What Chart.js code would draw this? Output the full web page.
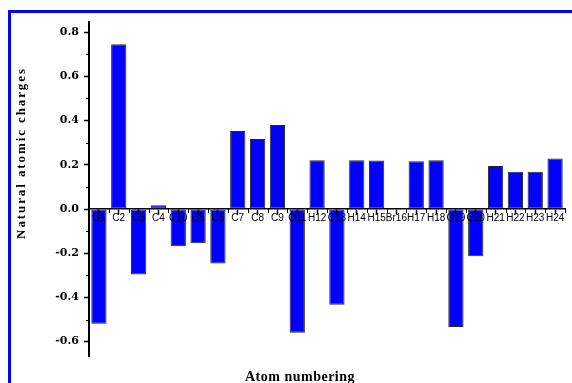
<!DOCTYPE html>
<html>
<head>
<meta charset="utf-8">
<script src="https://cdn.jsdelivr.net/npm/chart.js@4.4.1/dist/chart.umd.min.js"></script>
<style>
  html, body { margin: 0; padding: 0; background: #fff; overflow: hidden; }
  #frame { position: absolute; left: 8px; top: 10px; width: 600px; height: 400px;
           border-top: 3px solid #0000ff; border-left: 3px solid #0000ff; }
  #wrap { position: absolute; left: 0; top: 0; width: 572px; height: 383px; }
</style>
</head>
<body>
<div id="frame"></div>
<div id="wrap"><canvas id="chart"></canvas></div>
<script>
// atom labels along the x axis
const atoms = ['O1', 'C2', 'C3', 'C4', 'C10', 'C5', 'C6', 'C7', 'C8', 'C9', 'O11', 'H12',
               'C13', 'H14', 'H15', 'Br16', 'H17', 'H18', 'O19', 'C20', 'H21', 'H22', 'H23', 'H24'];

// natural atomic charges
const charges = [-0.519, 0.745, -0.296, 0.017, -0.169, -0.155, -0.247, 0.353, 0.317, 0.380, -0.560, 0.220,
                 -0.433, 0.220, 0.219, 0.000, 0.216, 0.220, -0.534, -0.214, 0.195, 0.169, 0.169, 0.228];

const yTickValues = [-0.6, -0.4, -0.2, 0.0, 0.2, 0.4, 0.6, 0.8];
const yMinorTicks = [-0.5, -0.3, -0.1, 0.1, 0.3, 0.5, 0.7];

// minor ticks + the two axis titles (Origin style)
const axisDecor = {
  id: 'axisDecor',
  afterDraw(chart) {
    const ctx = chart.ctx;
    const xs = chart.scales.x;
    const ys = chart.scales.y;
    const area = chart.chartArea;
    ctx.save();
    ctx.strokeStyle = '#000';
    ctx.lineWidth = 1;
    ctx.beginPath();
    yMinorTicks.forEach(v => {
      const py = Math.round(ys.getPixelForValue(v)) + 0.5;
      ctx.moveTo(area.left, py);
      ctx.lineTo(area.left - 3, py);
    });
    const zero = ys.getPixelForValue(0);
    for (let i = 0; i <= atoms.length; i++) {
      const px = Math.round(xs.getPixelForValue(i - 0.5)) + 0.5;
      ctx.moveTo(px, zero);
      ctx.lineTo(px, zero + 4);
    }
    ctx.stroke();

    ctx.fillStyle = '#000';
    ctx.textAlign = 'center';
    ctx.font = 'bold 14px "Liberation Serif"';
    ctx.letterSpacing = '0.5px';
    ctx.textBaseline = 'alphabetic';
    ctx.fillText('Atom numbering', (area.left + area.right) / 2 - 27, area.bottom + 25);

    ctx.translate(area.left - 67, area.top + 131);
    ctx.rotate(-Math.PI / 2);
    ctx.font = 'bold 13px "Liberation Serif"';
    ctx.letterSpacing = '1.9px';
    ctx.textBaseline = 'middle';
    ctx.fillText('Natural atomic charges', 0, 0);
    ctx.restore();
  }
};

new Chart(document.getElementById('chart'), {
  type: 'bar',
  data: {
    labels: atoms,
    datasets: [{
      label: 'Natural atomic charges',
      data: charges,
      backgroundColor: '#0000ff',
      borderColor: '#2a2a2a',
      borderWidth: 1,
      borderSkipped: false,
      barPercentage: 0.77,
      categoryPercentage: 1
    }]
  },
  options: {
    responsive: true,
    maintainAspectRatio: false,
    animation: false,
    layout: { padding: { top: 22, right: 7, bottom: 27, left: 0 } },
    plugins: {
      legend: { display: false },
      tooltip: { enabled: false }
    },
    scales: {
      x: {
        position: { y: 0 },
        offset: true,
        border: { display: true, color: '#000', width: 1.5, z: 1 },
        grid: { display: true, drawOnChartArea: false, drawTicks: true, offset: false,
                tickLength: 5, tickColor: '#000', tickWidth: 1.5, z: 1 },
        ticks: { color: '#000', font: { family: 'Liberation Sans', size: 10 },
                 padding: -2, maxRotation: 0, autoSkip: false, z: 1 }
      },
      y: {
        min: -0.665,
        max: 0.846,
        afterFit(scale) { scale.width = 89; },
        afterBuildTicks(scale) { scale.ticks = yTickValues.map(v => ({ value: v })); },
        border: { display: true, color: '#000', width: 2 },
        grid: { drawOnChartArea: false, drawTicks: true, tickLength: 5, tickColor: '#000', tickWidth: 1.5 },
        ticks: { color: '#000', font: { family: 'DejaVu Serif', weight: 'bold', size: 11 },
                 padding: 5, callback: v => v.toFixed(1) }
      }
    }
  },
  plugins: [axisDecor]
});
</script>
</body>
</html>
